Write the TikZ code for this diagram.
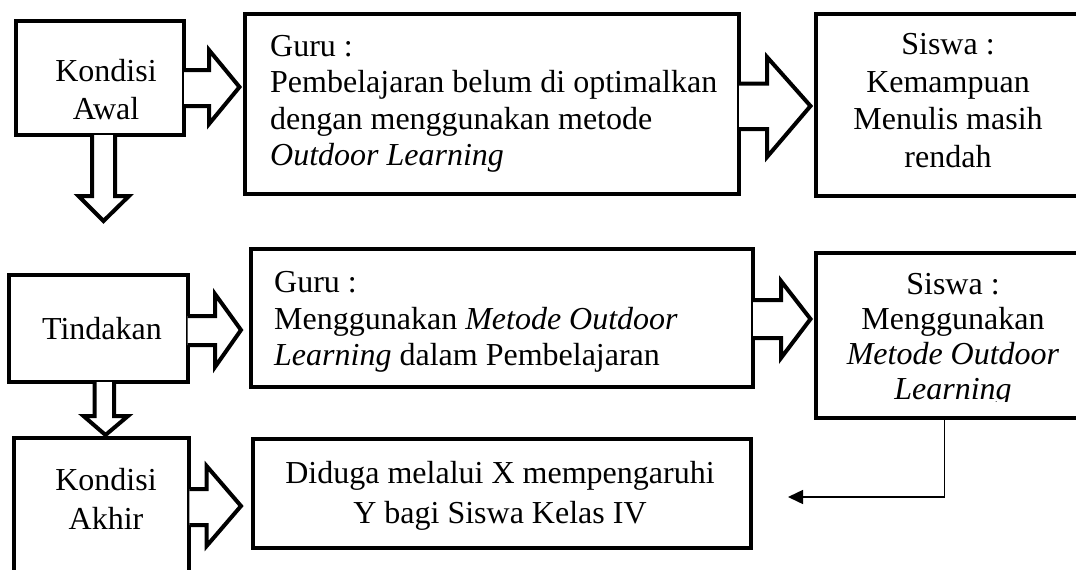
\documentclass[tikz,border=0pt]{standalone}
\usepackage{fontspec}
\setmainfont{Liberation Serif}
\usetikzlibrary{calc,arrows.meta}
\tikzset{
  box/.style={draw, line width=4pt, inner sep=0pt, rectangle},
  blk/.style={draw, line width=4pt, fill=white, line join=miter},
  txt/.style={inner sep=0pt, align=center},
  link/.style={line width=1.5pt, -{Triangle[length=15pt,width=14pt]}}
}
\newcommand\fs[1]{\fontsize{32}{#1}\selectfont}
\begin{document}
\begin{tikzpicture}[x=1pt,y=-1pt]
\useasboundingbox (0,0) rectangle (1076,570);
% boxes
\node[box, minimum width=168.5pt, minimum height=114.3pt] (A) at (99.75,77.85) {};
\node[box, minimum width=494.5pt, minimum height=180pt] (B) at (491.75,103.8) {};
\node[box, minimum width=271.5pt, minimum height=182pt] (C) at (951.25,105) {};
\node[box, minimum width=179.1pt, minimum height=107.3pt] (D) at (98.15,328.35) {};
\node[box, minimum width=502pt, minimum height=137.7pt] (F) at (502,318.15) {};
\node[box, minimum width=271.5pt, minimum height=165pt] (G) at (951.25,335.5) {};
\node[box, minimum width=175.6pt, minimum height=182pt] (E) at (101.6,529) {};
\node[box, minimum width=498pt, minimum height=109.5pt] (H) at (502,493.25) {};
% texts
\node[txt, anchor=north, font=\fs{38}] (At) at (106,59.5) {Kondisi\\Awal};
\node[txt, anchor=north west, align=left, font=\fs{36.5}] (Bt) at (270,35) {Guru :\\Pembelajaran belum di optimalkan\\dengan menggunakan metode\\\textit{Outdoor Learning}};
\node[txt, anchor=north, font=\fs{37.5}] (Ct) at (948,33.4) {Siswa :\\Kemampuan\\Menulis masih\\rendah};
\node[txt, anchor=north, font=\fs{38}] (Dt) at (102,317) {Tindakan};
\node[txt, anchor=north west, align=left, font=\fs{36.5}] (Ft) at (274,271.5) {Guru :\\Menggunakan \textit{Metode Outdoor}\\\textit{Learning} dalam Pembelajaran};
\begin{scope}
  \clip (815,253) rectangle (1087,401);
  \node[txt, anchor=north, font=\fs{35}] (Gt) at (953,273.4) {Siswa :\\Menggunakan\\\textit{Metode Outdoor}\\\textit{Learning}};
\end{scope}
\node[txt, anchor=north, font=\fs{39.5}] (Et) at (106,468) {Kondisi\\Akhir};
\node[txt, anchor=north, font=\fs{40}] (Ht) at (500,461) {Diduga melalui X mempengaruhi\\Y bagi Siswa Kelas IV};
% block arrows to the right
\draw[blk] ($(A.east |- 0,70)+(-2,0)$) -- (209,70) -- (209,50) -- ($(B.west |- 0,87)+(-3,0)$) -- (209,124) -- (209,106) -- ($(A.east |- 0,106)+(-2,0)$);
\draw[blk] ($(B.east |- 0,83.6)+(-2,0)$) -- (767,83.6) -- (767,57) -- ($(C.west |- 0,106)+(-3,0)$) -- (767,157) -- (767,129) -- ($(B.east |- 0,129)+(-2,0)$);
\draw[blk] ($(D.east |- 0,316)+(-2,0)$) -- (215,316) -- (215,294) -- (241,330) -- (215,367) -- (215,345) -- ($(D.east |- 0,345)+(-2,0)$);
\draw[blk] ($(F.east |- 0,300)+(-2,0)$) -- (781,300) -- (781,281) -- ($(G.west |- 0,319)+(-3,0)$) -- (781,358) -- (781,338) -- ($(F.east |- 0,338)+(-2,0)$);
\draw[blk] ($(E.east |- 0,489)+(-2,0)$) -- (206.6,489) -- (206.6,466) -- (241,506) -- (206.6,546) -- (206.6,525) -- ($(E.east |- 0,525)+(-2,0)$);
% block arrows downward
\coordinate (adtip) at (103.5,221);
\draw[blk] ($(A.south -| 92,0)+(0,-2)$) -- (92,196) -- (78.5,196) -- (adtip) -- (129,196) -- (115,196) -- ($(A.south -| 115,0)+(0,-2)$);
\draw[blk] ($(D.south -| 94.5,0)+(0,-2)$) -- (94.5,416) -- (83.5,416) -- ($(E.north -| 105.5,0)+(0,-1)$) -- (128,416) -- (114,416) -- ($(D.south -| 114,0)+(0,-2)$);
% thin connector
\coordinate (gh) at (788,497);
\draw[link] (G.south -| 944.3,0) |- (gh);
\end{tikzpicture}
\end{document}
